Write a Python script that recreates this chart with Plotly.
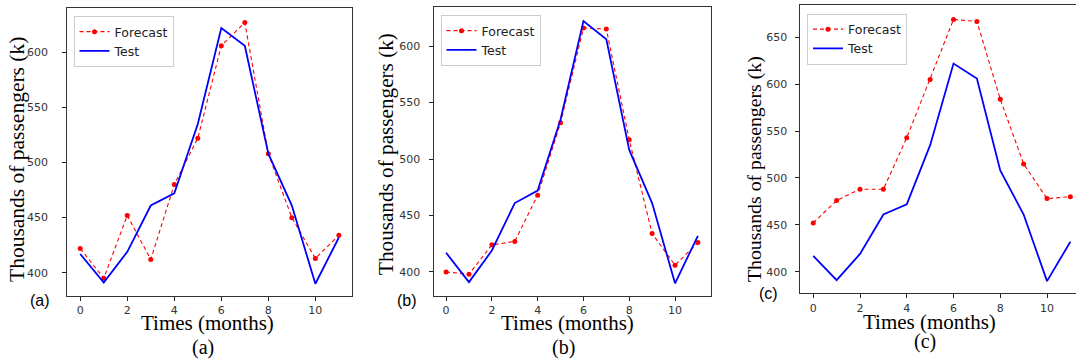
import plotly.graph_objects as go

months = list(range(12))
test = [417, 391, 419, 461, 472, 535, 622, 606, 508, 461, 390, 432]
forecast_a = [422, 395, 452, 412, 480, 522, 606, 627, 508, 450, 413, 434]
forecast_b = [400, 398, 424, 427, 468, 532, 616, 615, 517, 434, 406, 426]
forecast_c = [452, 476, 488, 488, 543, 605, 669, 667, 584, 515, 478, 480]
panel_labels = ["(a)", "(b)", "(c)"]
x_title = "Times (months)"
y_title = "Thousands of passengers (k)"
x_ticks = [0, 2, 4, 6, 8, 10]

W, H = 1076, 360
SERIF = "Liberation Serif, Times New Roman, serif"
SANS = "DejaVu Sans, sans-serif"

def px(x):
    return x / W

def py(y):
    return 1 - y / H

# panel geometry in pixels: (left, right, top, bottom)
panels = [
    dict(box=(67.3, 351.8, 8.0, 296.0), yr=[378.9, 640.2], xr=[-0.55, 11.55],
         yt=[400, 450, 500, 550, 600], fc=forecast_a, standoff=12,
         leg=(73.5, 16), ytx=17, yty=160, ytfs=21.5, xtx=207, xty=323, xtfs=21,
         lab=(39.5, 300), cap=(203, 347)),
    dict(box=(433.5, 710.5, 6.7, 295.7), yr=[379.0, 634.8], xr=[-0.55, 11.55],
         yt=[400, 450, 500, 550, 600], fc=forecast_b, standoff=6,
         leg=(440.5, 15), ytx=386, yty=154, ytfs=21.2, xtx=567.5, xty=323, xtfs=21,
         lab=(407, 300), cap=(563, 347)),
    dict(box=(800.4, 1076.0, 5.0, 293.3), yr=[377.0, 684.5], xr=[-0.55, 11.24],
         yt=[400, 450, 500, 550, 600, 650], fc=forecast_c, standoff=6,
         leg=(807, 13.5), ytx=754, yty=169, ytfs=19.8, xtx=929, xty=322, xtfs=21,
         lab=(768, 293), cap=(925, 341)),
]

fig = go.Figure()
annotations = []
layout = {}
for i, p in enumerate(panels):
    n = "" if i == 0 else str(i + 1)
    l, r, t, b = p["box"]
    legname = "legend" + n
    fig.add_trace(go.Scatter(
        x=months, y=p["fc"], name="Forecast", mode="lines+markers",
        line=dict(color="red", width=1.1, dash="4px,3px"),
        marker=dict(color="red", size=5),
        xaxis="x" + n, yaxis="y" + n, legend=legname))
    fig.add_trace(go.Scatter(
        x=months, y=test, name="Test", mode="lines",
        line=dict(color="blue", width=1.8),
        xaxis="x" + n, yaxis="y" + n, legend=legname))
    layout["xaxis" + n] = dict(
        domain=[px(l), min(1.0, px(r))], range=p["xr"], anchor="y" + n,
        tickvals=x_ticks, ticks="outside", ticklen=4, tickcolor="#222",
        showline=True, linecolor="#333", linewidth=1, mirror=True,
        showgrid=False, zeroline=False,
        tickfont=dict(family=SANS, size=11, color="#333"))
    layout["yaxis" + n] = dict(
        domain=[py(b), py(t)], range=p["yr"], anchor="x" + n,
        tickvals=p["yt"], ticks="outside", ticklen=4, tickcolor="#222",
        showline=True, linecolor="#333", linewidth=1,
        mirror=(i < 2), showgrid=False, zeroline=False,
        ticklabelstandoff=p["standoff"],
        tickfont=dict(family=SANS, size=11, color="#333"))
    layout[legname] = dict(
        x=px(p["leg"][0]), y=py(p["leg"][1]), xanchor="left", yanchor="top",
        bgcolor="white", bordercolor="#ccc", borderwidth=1,
        font=dict(family=SANS, size=12.5, color="#222"),
        tracegroupgap=0, itemwidth=30)
    annotations.append(dict(
        text=y_title, x=px(p["ytx"]), y=py(p["yty"]), xref="paper", yref="paper",
        textangle=-90, showarrow=False, xanchor="center", yanchor="middle",
        font=dict(family=SERIF, size=p["ytfs"], color="black")))
    annotations.append(dict(
        text=x_title, x=px(p["xtx"]), y=py(p["xty"]), xref="paper", yref="paper",
        showarrow=False, xanchor="center", yanchor="middle",
        font=dict(family=SERIF, size=p["xtfs"], color="black")))
    annotations.append(dict(
        text=panel_labels[i], x=px(p["lab"][0]), y=py(p["lab"][1]),
        xref="paper", yref="paper", showarrow=False,
        xanchor="center", yanchor="middle",
        font=dict(family="Liberation Sans, Arial, sans-serif", size=16, color="black")))
    annotations.append(dict(
        text=panel_labels[i], x=px(p["cap"][0]), y=py(p["cap"][1]),
        xref="paper", yref="paper", showarrow=False,
        xanchor="center", yanchor="middle",
        font=dict(family=SERIF, size=20, color="black")))

fig.update_layout(
    width=W, height=H, margin=dict(l=0, r=0, t=0, b=0),
    paper_bgcolor="white", plot_bgcolor="white",
    annotations=annotations, **layout)

fig.write_html(
    "out.html",
    config={"displayModeBar": False},
    post_script="document.body.style.margin='0px';document.body.style.padding='0px';document.body.style.overflow='hidden';")
